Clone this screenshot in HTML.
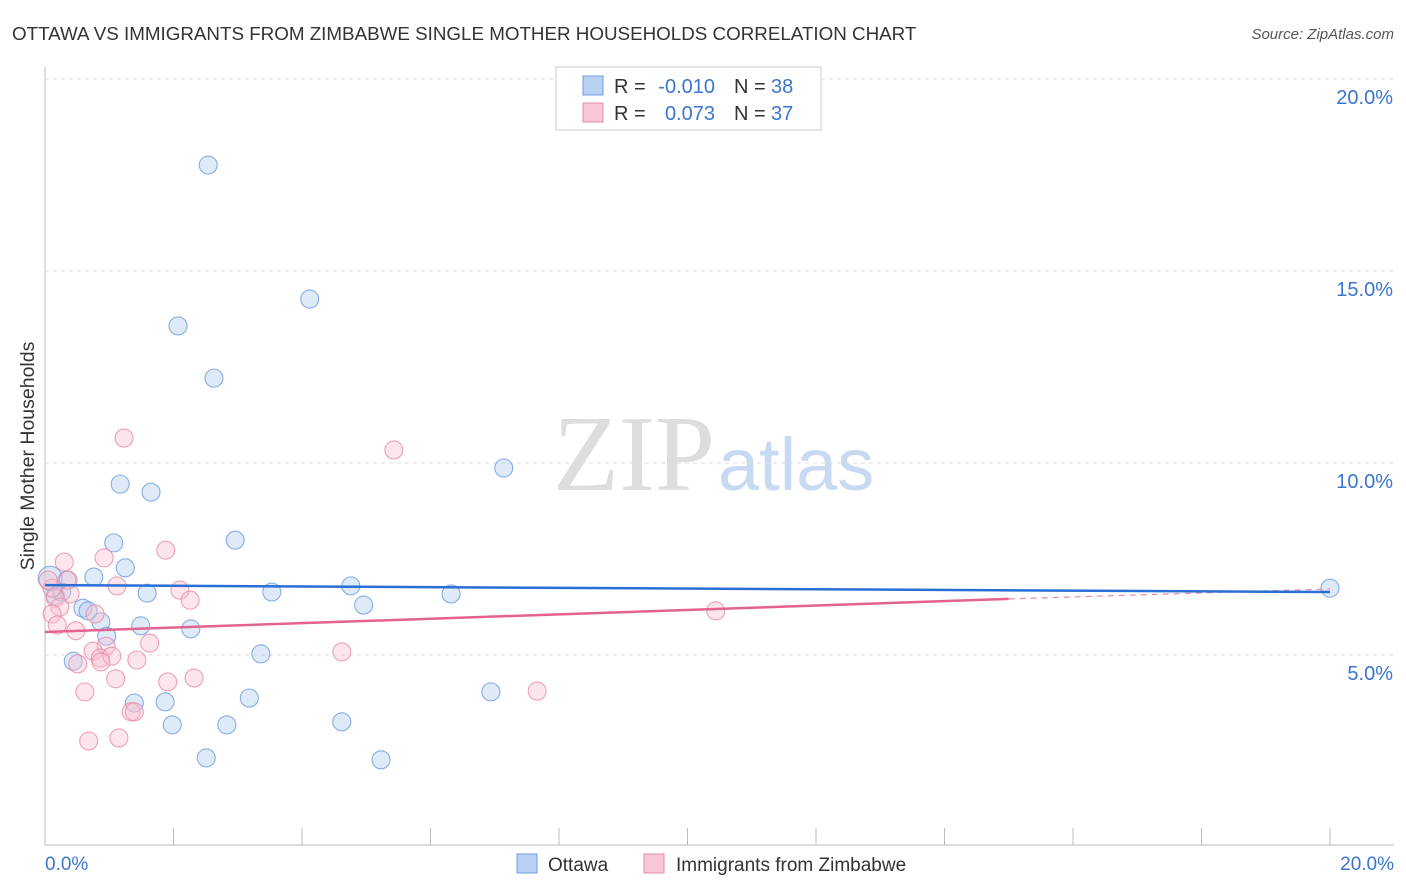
<!DOCTYPE html>
<html><head><meta charset="utf-8"><style>
body{margin:0;background:#fff;font-family:"Liberation Sans",sans-serif;}
svg{display:block}
</style></head><body>
<svg id="c" width="1406" height="892" xmlns="http://www.w3.org/2000/svg">
<text x="12" y="40" font-size="18.8" fill="#333">OTTAWA VS IMMIGRANTS FROM ZIMBABWE SINGLE MOTHER HOUSEHOLDS CORRELATION CHART</text>
<text x="1394" y="39" font-size="15" fill="#555" text-anchor="end" font-style="italic">Source: ZipAtlas.com</text>
<text x="553" y="490" font-size="108" fill="#ddd" font-family="Liberation Serif,serif">ZIP</text>
<text x="718" y="490" font-size="74" fill="#c8daf2">atlas</text>
<text transform="translate(34,456) rotate(-90)" font-size="19.5" fill="#333" text-anchor="middle">Single Mother Households</text>
<g id="grid"></g><g id="axes"></g><g id="pts"></g><g id="lines"></g>
<g>
<rect x="556" y="67" width="265" height="63" fill="#fff" stroke="#ccc"/>
<rect x="583" y="76" width="20" height="19" fill="#b8d0f2" stroke="#6a9be0"/>
<rect x="583" y="103" width="20" height="19" fill="#f8c6d4" stroke="#e88aa8"/>
<text x="614" y="93" font-size="20" fill="#333">R =</text>
<text x="715" y="93" font-size="20" fill="#3a75d0" text-anchor="end">-0.010</text>
<text x="734" y="93" font-size="20" fill="#333">N =</text>
<text x="771" y="93" font-size="20" fill="#3a75d0">38</text>
<text x="614" y="120" font-size="20" fill="#333">R =</text>
<text x="715" y="120" font-size="20" fill="#3a75d0" text-anchor="end">0.073</text>
<text x="734" y="120" font-size="20" fill="#333">N =</text>
<text x="771" y="120" font-size="20" fill="#3a75d0">37</text>
</g>
<g>
<rect x="517" y="854" width="20" height="19" fill="#b8d0f2" stroke="#6a9be0"/>
<text x="548" y="871" font-size="19" fill="#333">Ottawa</text>
<rect x="644" y="854" width="20" height="19" fill="#f8c6d4" stroke="#e88aa8"/>
<text x="676" y="871" font-size="19" fill="#333">Immigrants from Zimbabwe</text>
</g>
</svg>
<script>
const yTicks=[5,10,15,20];
const yTickLabels=["5.0%","10.0%","15.0%","20.0%"];
const xTickLabels=["0.0%","20.0%"];
const blueX=[2.54,4.12,2.07,2.63,7.14,1.17,1.65,2.96,1.07,1.25,0.76,0.34,4.76,20.0,1.59,3.53,6.32,0.16,0.26,4.96,0.59,0.67,0.87,1.49,2.27,0.96,3.36,0.44,3.18,1.87,1.39,6.94,1.98,2.83,4.62,2.51,5.23,0.08];
const blueY=[17.76,14.27,13.57,12.21,9.87,9.45,9.24,7.99,7.92,7.27,7.03,6.95,6.80,6.74,6.61,6.64,6.59,6.54,6.64,6.30,6.22,6.15,5.86,5.76,5.68,5.49,5.03,4.84,3.88,3.78,3.75,4.04,3.18,3.18,3.26,2.32,2.27,7.0];
const pinkX=[1.23,5.43,0.30,0.92,1.88,1.12,2.10,2.26,0.36,0.39,0.16,0.23,0.78,10.44,0.11,0.19,0.48,1.63,0.95,0.75,0.86,1.04,1.43,0.51,4.62,0.87,0.62,1.10,2.32,1.91,7.66,1.34,1.39,0.68,1.15,0.11,0.05];
const pinkY=[10.65,10.34,7.42,7.53,7.73,6.80,6.69,6.43,6.95,6.59,6.48,6.25,6.07,6.15,6.07,5.78,5.63,5.31,5.23,5.10,4.92,4.97,4.87,4.77,5.08,4.82,4.04,4.38,4.40,4.30,4.06,3.52,3.52,2.76,2.84,6.74,6.95];
const blueTrend=[[0,6.82],[20,6.64]];
const pinkTrend=[[0,5.60],[15,6.46]];
const pinkTrendExt=[[15,6.46],[20,6.72]];
const NS="http://www.w3.org/2000/svg";
const X=v=>45+v/20*1285, Y=v=>847-v*38.4;
function mk(t,a,p){const e=document.createElementNS(NS,t);for(const k in a)e.setAttribute(k,a[k]);document.getElementById(p).appendChild(e);return e;}
yTicks.forEach((t,i)=>{
 const l=mk('line',{x1:45,x2:1394,y1:Y(t),y2:Y(t),stroke:'#ddd','stroke-dasharray':'4,4'},'grid');
 
 
 const tx=mk('text',{x:1393,y:Y(t)+25,'font-size':20,fill:'#3a75d0','text-anchor':'end'},'grid');tx.textContent=yTickLabels[i];
 
 
});
const ax=mk('line',{x1:45,x2:1394,y1:845,y2:845,stroke:'#bbb'},'axes');


const ay=mk('line',{x1:45,x2:45,y1:67,y2:845,stroke:'#bbb'},'axes');


for(let i=0;i<=10;i++){const t=mk('line',{x1:X(i*2),x2:X(i*2),y1:828,y2:845,stroke:'#bbb'},'axes');
 
 }
[[0,'start',45],[1,'end',1394]].forEach(([i,a,x])=>{const t=mk('text',{x:x,y:870,'font-size':19,fill:'#3a75d0','text-anchor':a},'axes');t.textContent=xTickLabels[i];
 
 });
function pts(xs,ys,f,s,n){xs.forEach((x,i)=>{const c=mk('circle',{cx:X(x),cy:Y(ys[i]),r:i==xs.length-1&&n=='ottawa-point'?12:9,fill:f,'fill-opacity':0.4,stroke:s,'stroke-width':1.1,'stroke-opacity':0.8},'pts');
 
 });}
pts(blueX,blueY,'#b0cbf0','#6a9be0','ottawa-point');
pts(pinkX,pinkY,'#f7c0d0','#e88aa8','zimbabwe-point');
function ln(p,c,w,d,n){const l=mk('line',{x1:X(p[0][0]),y1:Y(p[0][1]),x2:X(p[1][0]),y2:Y(p[1][1]),stroke:c,'stroke-width':w},'lines');if(d)l.setAttribute('stroke-dasharray',d);
 
 }
ln(pinkTrendExt,'#e88aa8',1.2,'6,5','zimbabwe-trend-extension');
ln(pinkTrend,'#e4628e',2.5,null,'zimbabwe-trend-line');
ln(blueTrend,'#2a6fd6',2.5,null,'ottawa-trend-line');
</script>
</body></html>
